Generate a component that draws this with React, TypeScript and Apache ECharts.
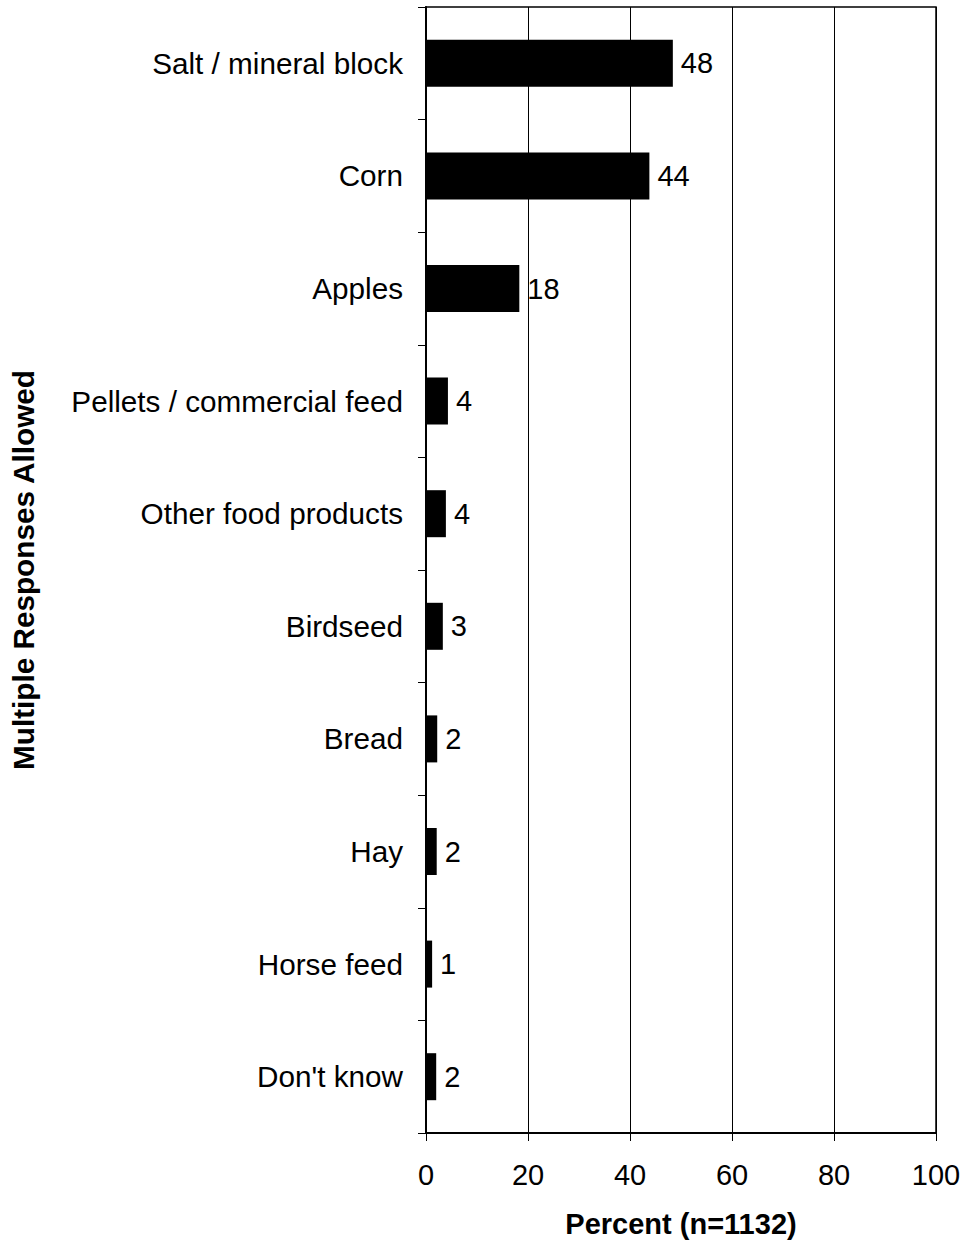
import React, { useEffect, useRef } from "react";
import * as echarts from "echarts";

const categories = [
  "Salt / mineral block",
  "Corn",
  "Apples",
  "Pellets / commercial feed",
  "Other food products",
  "Birdseed",
  "Bread",
  "Hay",
  "Horse feed",
  "Don't know",
];
const values = [48.4, 43.8, 18.3, 4.3, 3.9, 3.3, 2.2, 2.1, 1.2, 2.0];
const labels = [48, 44, 18, 4, 4, 3, 2, 2, 1, 2];
const xTicks = [0, 20, 40, 60, 80, 100];

const FONT = "Liberation Sans, Arial, sans-serif";
const FS = 29;
const FS_CAT = 29.7;

export default function App() {
  const ref = useRef<HTMLDivElement>(null);
  useEffect(() => {
    if (!ref.current) return;
    const chart = echarts.init(ref.current, undefined, { renderer: "svg" });
    chart.setOption({
      animation: false,
      textStyle: { fontFamily: FONT },
      grid: {
        left: 426,
        right: 28,
        top: 7,
        bottom: 112,
        show: true,
        borderColor: "#000",
        borderWidth: 1.5,
        containLabel: false,
      },
      xAxis: {
        type: "value",
        min: 0,
        max: 100,
        interval: 20,
        name: "Percent (n=1132)",
        nameLocation: "middle",
        nameGap: 76,
        nameTextStyle: { fontSize: FS, fontWeight: "bold", color: "#000", fontFamily: FONT },
        axisLine: { show: true, lineStyle: { color: "#000", width: 2 } },
        axisTick: { show: true, length: 8, lineStyle: { color: "#000", width: 1 } },
        axisLabel: {
          fontSize: FS,
          color: "#000",
          margin: 27,
          fontFamily: FONT,
          formatter: (v: number) => (xTicks.includes(v) ? String(v) : ""),
        },
        splitLine: { show: true, lineStyle: { color: "#000", width: 1 } },
      },
      yAxis: {
        type: "category",
        data: categories,
        inverse: true,
        name: "Multiple Responses Allowed",
        nameLocation: "middle",
        nameRotate: 90,
        nameGap: 388,
        nameTextStyle: { fontSize: FS_CAT, fontWeight: "bold", color: "#000", fontFamily: FONT },
        axisLine: { show: true, lineStyle: { color: "#000", width: 2 } },
        axisTick: { show: true, length: 8, alignWithLabel: false, lineStyle: { color: "#000", width: 1 } },
        axisLabel: { fontSize: FS_CAT, color: "#000", margin: 23, fontFamily: FONT },
        splitLine: { show: false },
      },
      series: [
        {
          type: "bar",
          data: values,
          barWidth: 47,
          itemStyle: { color: "#000" },
          label: {
            show: true,
            position: "right",
            distance: 8,
            fontSize: FS,
            color: "#000",
            fontFamily: FONT,
            formatter: (p: any) => String(labels[p.dataIndex]),
          },
        },
      ],
    });
    return () => chart.dispose();
  }, []);
  return (
    <div
      ref={ref}
      style={{ position: "absolute", left: 0, top: 0, width: 964, height: 1245 }}
    />
  );
}
